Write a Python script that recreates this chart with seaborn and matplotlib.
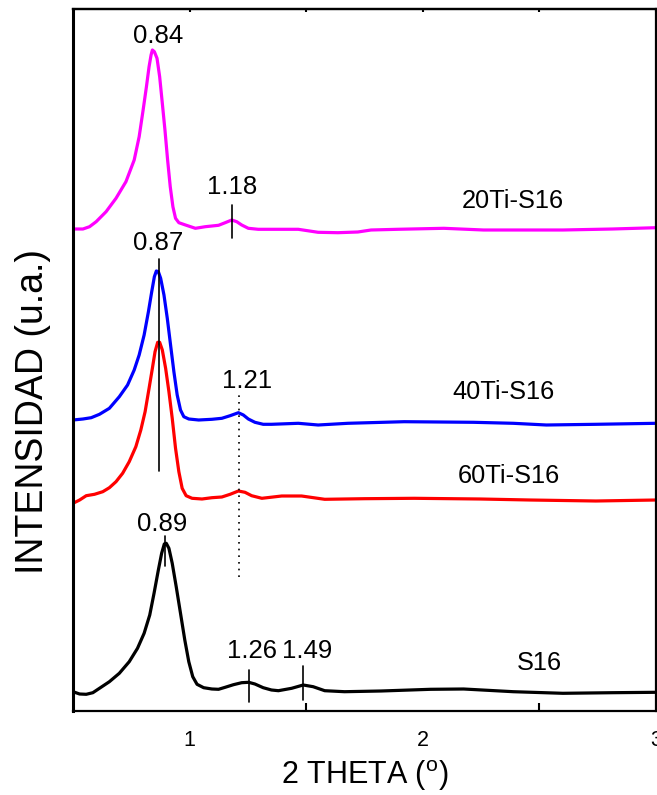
import matplotlib
matplotlib.use("Agg")
import matplotlib.pyplot as plt
import pandas as pd
import seaborn as sns

# --- diffraction patterns (2-theta in degrees, intensity in a.u., already stacked) ---
x_20ti = [0.5000, 0.5426, 0.5709, 0.5993, 0.6418, 0.6844, 0.7270, 0.7624, 0.7837, 0.8007,
          0.8149, 0.8262, 0.8348, 0.8404, 0.8489, 0.8603, 0.8716, 0.8830, 0.8943, 0.9057,
          0.9170, 0.9284, 0.9397, 0.9539, 0.9823, 1.0248, 1.0674, 1.0957, 1.1241, 1.1525,
          1.1809, 1.2021, 1.2234, 1.2518, 1.2943, 1.3667, 1.4660, 1.5511, 1.6362, 1.7213,
          1.7780, 1.8915, 2.0901, 2.2603, 2.4589, 2.6007, 2.8135, 3.0000]
y_20ti = [482.0, 482.0, 484.3, 489.3, 499.3, 512.7, 529.3, 551.0, 574.3, 601.0,
          624.3, 644.3, 656.0, 661.0, 659.3, 652.7, 634.3, 607.7, 581.0, 551.0,
          524.3, 504.3, 492.7, 488.3, 486.0, 482.7, 484.3, 485.0, 485.7, 488.3,
          491.0, 489.3, 486.0, 482.7, 481.7, 481.7, 481.7, 478.7, 478.3, 479.0,
          481.0, 481.7, 482.7, 481.0, 481.0, 481.0, 482.0, 483.3]

x_40ti = [0.5000, 0.5426, 0.5780, 0.6135, 0.6560, 0.6986, 0.7340, 0.7624, 0.7837, 0.8050,
          0.8234, 0.8376, 0.8489, 0.8574, 0.8660, 0.8759, 0.8901, 0.9043, 0.9184, 0.9326,
          0.9468, 0.9610, 0.9752, 0.9965, 1.0390, 1.0957, 1.1383, 1.1738, 1.2092, 1.2305,
          1.2518, 1.2801, 1.3156, 1.3511, 1.4660, 1.5511, 1.6787, 1.9199, 2.2177, 2.3879,
          2.5298, 2.7426, 3.0000]
y_40ti = [291.0, 292.0, 293.3, 296.7, 302.7, 314.3, 326.0, 341.0, 356.0, 376.0,
          399.3, 419.3, 434.3, 440.0, 439.3, 432.7, 416.0, 392.7, 366.0, 339.3,
          316.0, 301.0, 294.3, 292.0, 291.0, 291.7, 292.7, 295.3, 298.3, 296.0,
          292.0, 288.7, 286.7, 286.7, 287.7, 286.0, 287.7, 289.3, 288.7, 287.7,
          286.0, 286.7, 287.7]

x_60ti = [0.5000, 0.5284, 0.5567, 0.5922, 0.6277, 0.6560, 0.6844, 0.7128, 0.7411, 0.7695,
          0.7908, 0.8092, 0.8262, 0.8404, 0.8518, 0.8631, 0.8716, 0.8830, 0.8972, 0.9113,
          0.9255, 0.9397, 0.9539, 0.9681, 0.9851, 1.0106, 1.0532, 1.0957, 1.1383, 1.1738,
          1.2092, 1.2376, 1.2660, 1.3099, 1.3950, 1.4801, 1.5794, 1.7496, 1.9624, 2.2461,
          2.4589, 2.7426, 3.0000]
y_60ti = [207.7, 211.0, 215.3, 216.7, 219.3, 223.3, 229.3, 237.7, 249.3, 264.3,
          281.0, 299.3, 322.7, 342.7, 359.3, 368.7, 368.7, 361.0, 342.7, 319.3,
          292.7, 262.7, 239.3, 222.7, 215.3, 212.7, 212.0, 213.3, 214.0, 216.7,
          220.0, 218.7, 215.3, 212.7, 215.0, 215.0, 211.7, 212.3, 212.7, 212.0,
          211.0, 210.0, 211.0]

x_s16 = [0.5000, 0.5284, 0.5567, 0.5851, 0.6135, 0.6560, 0.6986, 0.7411, 0.7766, 0.8050,
         0.8291, 0.8475, 0.8660, 0.8801, 0.8915, 0.9000, 0.9113, 0.9255, 0.9426, 0.9610,
         0.9794, 0.9965, 1.0135, 1.0319, 1.0603, 1.0957, 1.1241, 1.1525, 1.1879, 1.2234,
         1.2532, 1.2801, 1.3156, 1.3511, 1.3808, 1.4376, 1.4872, 1.5298, 1.5794, 1.6645,
         1.8206, 2.0333, 2.1752, 2.3879, 2.6007, 2.8135, 3.0000]
y_s16 = [19.3, 17.0, 16.7, 18.3, 22.7, 29.3, 37.7, 49.3, 62.7, 77.7,
         96.0, 117.7, 141.0, 157.7, 167.0, 167.7, 162.7, 147.7, 124.3, 97.7,
         71.0, 49.3, 34.3, 26.7, 23.3, 22.0, 21.7, 23.7, 26.3, 28.3,
         28.7, 27.0, 23.3, 21.0, 20.3, 22.7, 26.0, 24.3, 20.3, 19.3,
         20.0, 21.7, 22.0, 19.3, 17.7, 18.3, 18.7]

samples = ["20Ti-S16", "40Ti-S16", "60Ti-S16", "S16"]
colors = ["#ff00ff", "#0000ff", "#ff0000", "#000000"]

# sample name positions
name_x = [2.385, 2.346, 2.368, 2.50]
name_y = [510, 319, 235, 48]

# peak annotations: label, text position, marker line (x, y0, y1, style)
peak_labels = ["0.84", "1.18", "0.87", "1.21", "0.89", "1.26", "1.49"]
peak_text_x = [0.866, 1.181, 0.866, 1.245, 0.883, 1.268, 1.502]
peak_text_y = [675, 524, 468, 330, 187, 60, 60]
mark_x = [None, 1.18, 0.867, 1.21, 0.894, 1.253, 1.487]
mark_y0 = [None, 473, 240, 134, 145, 9, 11]
mark_y1 = [None, 506, 452, 319, 175, 41, 45]
mark_style = [None, "-", "-", ":", "-", "-", "-"]

frames = []
for name, xs, ys in zip(samples,
                        [x_20ti, x_40ti, x_60ti, x_s16],
                        [y_20ti, y_40ti, y_60ti, y_s16]):
    frames.append(pd.DataFrame({"two_theta": xs, "intensity": ys, "sample": name}))
data = pd.concat(frames, ignore_index=True)

sns.set_theme(style="white")
plt.rcParams["font.family"] = ["Liberation Sans", "DejaVu Sans"]
plt.rcParams["mathtext.fontset"] = "custom"
plt.rcParams["mathtext.rm"] = "Liberation Sans"
plt.rcParams["text.color"] = "black"
plt.rcParams["axes.labelcolor"] = "black"
plt.rcParams["xtick.color"] = "black"
plt.rcParams["xtick.labelcolor"] = "black"

fig = plt.figure(figsize=(6.57, 7.95), dpi=100)
ax = fig.add_axes([73 / 657, 1 - 711 / 795, 583 / 657, 702 / 795])

sns.lineplot(data=data, x="two_theta", y="intensity", hue="sample",
             hue_order=samples, palette=colors, sort=False,
             linewidth=2.3, legend=False, ax=ax)
for line in ax.lines:
    line.set_solid_joinstyle("round")
    line.set_solid_capstyle("round")

for lab, tx, ty, mx, y0, y1, ls in zip(peak_labels, peak_text_x, peak_text_y,
                                       mark_x, mark_y0, mark_y1, mark_style):
    ax.text(tx, ty, lab, ha="center", va="center", fontsize=18.5, color="black")
    if mx is not None:
        if ls == ":":
            ax.plot([mx, mx], [y0, y1], color="black", lw=1.2, ls=(0, (1, 3)))
        else:
            ax.plot([mx, mx], [y0, y1], color="black", lw=1.2, ls="-")

for name, nx, ny in zip(samples, name_x, name_y):
    ax.text(nx, ny, name, ha="center", va="center", fontsize=18.3, color="black")

ax.set_xlim(0.5, 3.0)
ax.set_ylim(0, 702)
ax.set_xticks([1, 2, 3])
ax.set_xticklabels(["1", "2", "3"])
ax.set_xticks([1.5, 2.5], minor=True)
ax.set_yticks([])
ax.tick_params(axis="x", which="major", direction="in", length=11, width=1.5,
               labelsize=15.5, pad=14, top=False, colors="black")
ax.tick_params(axis="x", which="minor", direction="in", length=6, width=1.5,
               bottom=True, top=False, colors="black")

# short inward marks on the top frame
top = ax.secondary_xaxis("top")
top.set_xticks([1, 2, 3])
top.set_xticks([1.5, 2.5], minor=True)
top.tick_params(axis="x", which="both", direction="in", length=2.5, width=1.5,
                labeltop=False, colors="black")
top.spines["top"].set_linewidth(1.6)
top.spines["top"].set_color("black")

for side in ["left", "right", "top", "bottom"]:
    ax.spines[side].set_color("black")
    ax.spines[side].set_linewidth(1.6)
ax.spines["left"].set_linewidth(2.2)

ax.set_xlabel("2 THETA ($^{\\mathrm{o}}$)", fontsize=22, labelpad=5, color="black")
ax.set_ylabel("INTENSIDAD (u.a.)", fontsize=27, color="black")
ax.yaxis.set_label_coords(-0.038, 0.427)

fig.savefig("out.png", dpi=100)
